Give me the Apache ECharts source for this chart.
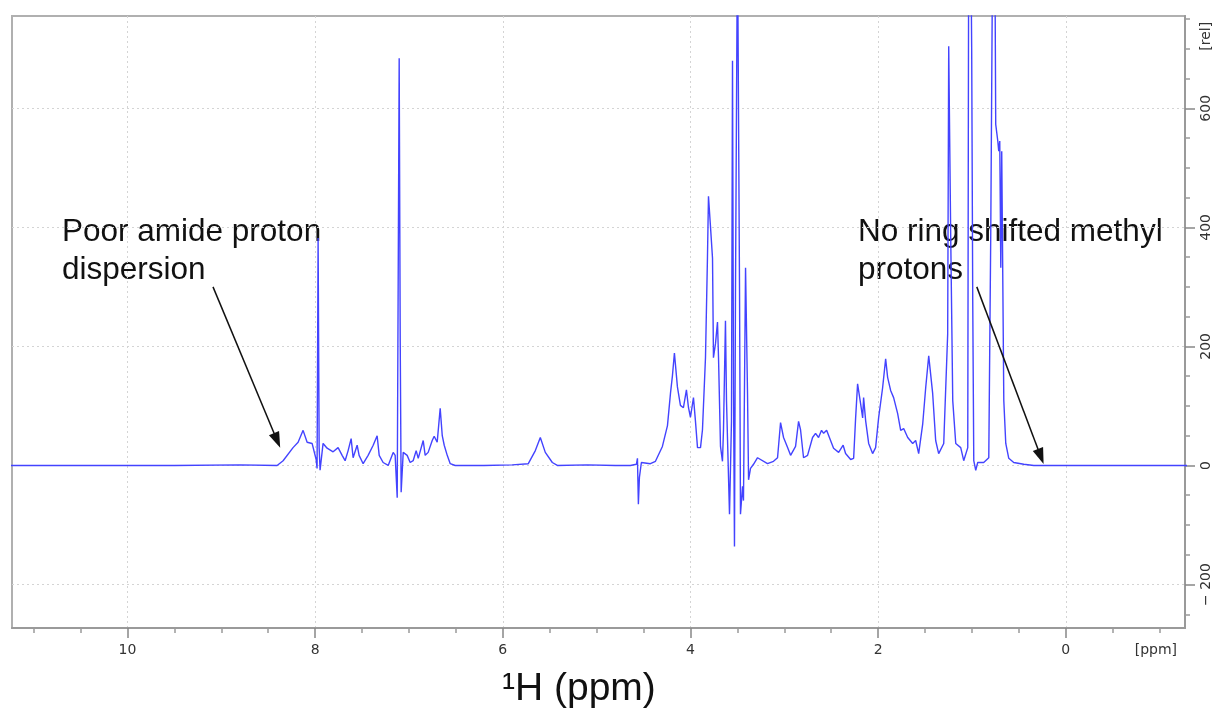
<!DOCTYPE html>
<html>
<head>
<meta charset="utf-8">
<title>1H NMR spectrum</title>
<script src="https://cdn.jsdelivr.net/npm/echarts@6/dist/echarts.min.js"></script>
<style>
  html, body { margin: 0; padding: 0; background: #fff; }
  #chart { width: 1218px; height: 713px; }
</style>
</head>
<body>
<div id="chart"></div>
<script>
// chemical shift (ppm) and intensity (rel)
const shift = [
  11.3, 10.5, 9.5, 8.8, 8.405, 8.341, 8.235, 8.181, 8.128, 8.085, 8.032, 7.989, 7.979, 7.968, 7.957, 7.947,
  7.915, 7.872, 7.808, 7.755, 7.712, 7.680, 7.648, 7.616, 7.595, 7.552, 7.531, 7.488, 7.435, 7.381,
  7.339, 7.317, 7.275, 7.221, 7.168, 7.147, 7.125, 7.104, 7.093, 7.083, 7.061, 7.019, 6.987, 6.955,
  6.923, 6.901, 6.848, 6.827, 6.795, 6.752, 6.731, 6.699, 6.667, 6.645, 6.624, 6.592, 6.560, 6.507,
  6.2, 5.9, 5.728, 5.653, 5.600, 5.547, 5.472, 5.419, 5.1, 4.8, 4.640, 4.576, 4.565, 4.555, 4.544, 4.523,
  4.427, 4.373, 4.299, 4.245, 4.213, 4.192, 4.171, 4.139, 4.107, 4.075, 4.043, 4.021, 4.000, 3.968,
  3.947, 3.925, 3.893, 3.872, 3.840, 3.819, 3.808, 3.787, 3.776, 3.765, 3.755, 3.733, 3.712, 3.701,
  3.680, 3.659, 3.648, 3.627, 3.616, 3.595, 3.584, 3.563, 3.552, 3.541, 3.531, 3.520, 3.499, 3.488,
  3.477, 3.467, 3.445, 3.435, 3.413, 3.403, 3.392, 3.381, 3.360, 3.328, 3.285, 3.179, 3.115, 3.072,
  3.040, 3.008, 2.965, 2.933, 2.880, 2.848, 2.827, 2.795, 2.752, 2.699, 2.667, 2.635, 2.603, 2.581,
  2.549, 2.507, 2.475, 2.421, 2.373, 2.347, 2.293, 2.261, 2.240, 2.219, 2.187, 2.165, 2.155, 2.133,
  2.101, 2.059, 2.027, 1.995, 1.952, 1.920, 1.899, 1.867, 1.835, 1.792, 1.760, 1.728, 1.685, 1.632,
  1.600, 1.568, 1.525, 1.493, 1.461, 1.419, 1.387, 1.355, 1.301, 1.259, 1.248, 1.227, 1.205, 1.173,
  1.120, 1.088, 1.045, 1.035, 1.013, 1.003, 0.992, 0.981, 0.960, 0.939, 0.875, 0.821, 0.800, 0.779,
  0.757, 0.747, 0.725, 0.715, 0.704, 0.693, 0.683, 0.661, 0.640, 0.608, 0.555, 0.448, 0.341, 0.0,
  -0.6, -1.3
];
const intensity = [
  0, 0, 0, 1, 0, 8, 30, 39, 59, 39, 37, 10, -5, 382, 30, -8,
  37, 29, 23, 30, 17, 8, 25, 45, 13, 34, 17, 3, 17, 34,
  50, 17, 5, 0, 22, 17, -54, 684, 210, -45, 22, 17, 5, 8,
  25, 12, 42, 17, 22, 42, 49, 39, 96, 50, 34, 17, 3, 0,
  0, 1, 3, 25, 47, 22, 5, 0, 1, 0, 0, 2, 12, -65, -20, 5,
  3, 7, 32, 67, 121, 151, 189, 132, 101, 97, 127, 97, 81, 114,
  75, 30, 30, 60, 181, 348, 452, 402, 402, 348, 181, 205, 241, 181,
  32, 7, 60, 243, 109, -17, -82, 74, 680, 120, -136, 300, 900, 900,
  290, -82, -35, -59, 332, 335, 121, -24, -5, 2, 13, 3, 7, 13,
  72, 47, 30, 17, 32, 74, 60, 13, 17, 47, 54, 47, 59, 54,
  59, 42, 29, 22, 34, 20, 10, 12, 80, 137, 104, 80, 114, 75,
  37, 20, 30, 80, 131, 179, 148, 126, 114, 87, 59, 62, 47, 37,
  42, 20, 70, 131, 184, 121, 42, 20, 37, 221, 704, 389, 109, 37,
  30, 8, 30, 900, 900, 695, 277, 8, -8, 5, 5, 13, 389, 900,
  900, 573, 545, 528, 545, 332, 528, 109, 37, 12, 5, 2, 0, 0,
  0, 0
];

// axis ticks and labels
const ppmMajor = [10, 8, 6, 4, 2, 0];
const ppmMinor = [-1, -0.5, 0.5, 1, 1.5, 2.5, 3, 3.5, 4.5, 5, 5.5, 6.5, 7, 7.5, 8.5, 9, 9.5, 10.5, 11];
const ppmUnitAt = -0.96;
const relMajor = [-200, 0, 200, 400, 600];
const relMinor = [-250, -150, -100, -50, 50, 100, 150, 250, 300, 350, 450, 500, 550, 650, 700, 750];
const relUnitAt = 721;

// annotation arrows [ppm, rel] -> [ppm, rel]
const arrowAmide = [[9.088, 300], [8.405, 42]];
const arrowMethyl = [[0.949, 300], [0.267, 15]];

const spectrum = shift.map((s, i) => [s, intensity[i]]);

const labelFont = { fontFamily: 'DejaVu Sans', fontSize: 14, color: '#333' };
const axisGray = '#9a9a9a';

const chart = echarts.init(document.getElementById('chart'));
chart.setOption({
  animation: false,
  backgroundColor: '#fff',
  grid: {
    left: 12, right: 33, top: 16, bottom: 85,
    show: true, borderColor: '#b0b0b0', borderWidth: 2
  },
  xAxis: [
    {
      type: 'value', inverse: true, min: -1.27, max: 11.23,
      position: 'bottom',
      axisLine: { onZero: false, lineStyle: { color: axisGray, width: 2 } },
      axisTick: { customValues: ppmMajor, length: 10, lineStyle: { color: '#888', width: 1.5 } },
      axisLabel: Object.assign({
        customValues: ppmMajor.concat([ppmUnitAt]), margin: 15,
        formatter: v => (Math.abs(v - ppmUnitAt) < 1e-6 ? '[ppm]' : String(v))
      }, labelFont),
      splitLine: { show: true, lineStyle: { color: '#d4d4d4', type: [2, 3], width: 1 } }
    },
    {
      type: 'value', inverse: true, min: -1.27, max: 11.23,
      position: 'bottom',
      axisLine: { show: false, onZero: false },
      axisTick: { customValues: ppmMinor, length: 5, lineStyle: { color: axisGray, width: 1.5 } },
      axisLabel: { show: false },
      splitLine: { show: false }
    }
  ],
  yAxis: [
    {
      type: 'value', min: -273, max: 755,
      position: 'right',
      axisLine: { show: true, onZero: false, lineStyle: { color: axisGray, width: 2 } },
      axisTick: { show: true, customValues: relMajor, length: 10, lineStyle: { color: '#888', width: 1.5 } },
      axisLabel: Object.assign({
        customValues: relMajor.concat([relUnitAt]), margin: 14, rotate: 90,
        formatter: v => (v === relUnitAt ? '[rel]' : v < 0 ? '\u2212 ' + Math.abs(v) : String(v))
      }, labelFont),
      splitLine: { show: true, lineStyle: { color: '#d4d4d4', type: [2, 3], width: 1 } }
    },
    {
      type: 'value', min: -273, max: 755,
      position: 'right',
      axisLine: { show: false, onZero: false },
      axisTick: { show: true, customValues: relMinor, length: 5, lineStyle: { color: axisGray, width: 1.5 } },
      axisLabel: { show: false },
      splitLine: { show: false }
    }
  ],
  series: [
    {
      type: 'line',
      data: spectrum,
      xAxisIndex: 0, yAxisIndex: 0,
      showSymbol: false,
      clip: true,
      lineStyle: { color: '#4343ff', width: 1.4 },
      markLine: {
        silent: true,
        symbol: ['none', 'triangle'],
        symbolSize: [11, 16],
        label: { show: false },
        lineStyle: { color: '#111', width: 1.5, type: 'solid' },
        data: [
          [{ coord: arrowAmide[0] }, { coord: arrowAmide[1] }],
          [{ coord: arrowMethyl[0] }, { coord: arrowMethyl[1] }]
        ]
      }
    }
  ],
  graphic: [
    {
      type: 'text', left: 62, top: 213,
      style: {
        text: 'Poor amide proton\ndispersion',
        font: '31.5px "Liberation Sans", Arial, sans-serif',
        lineHeight: 38, fill: '#111'
      }
    },
    {
      type: 'text', left: 858, top: 213,
      style: {
        text: 'No ring shifted methyl\nprotons',
        font: '31.5px "Liberation Sans", Arial, sans-serif',
        lineHeight: 38, fill: '#111'
      }
    },
    {
      type: 'text', left: 502, top: 670,
      style: {
        text: '\u00b9H (ppm)',
        font: '39px "Liberation Sans", Arial, sans-serif',
        fill: '#111'
      }
    }
  ]
});
</script>
</body>
</html>
